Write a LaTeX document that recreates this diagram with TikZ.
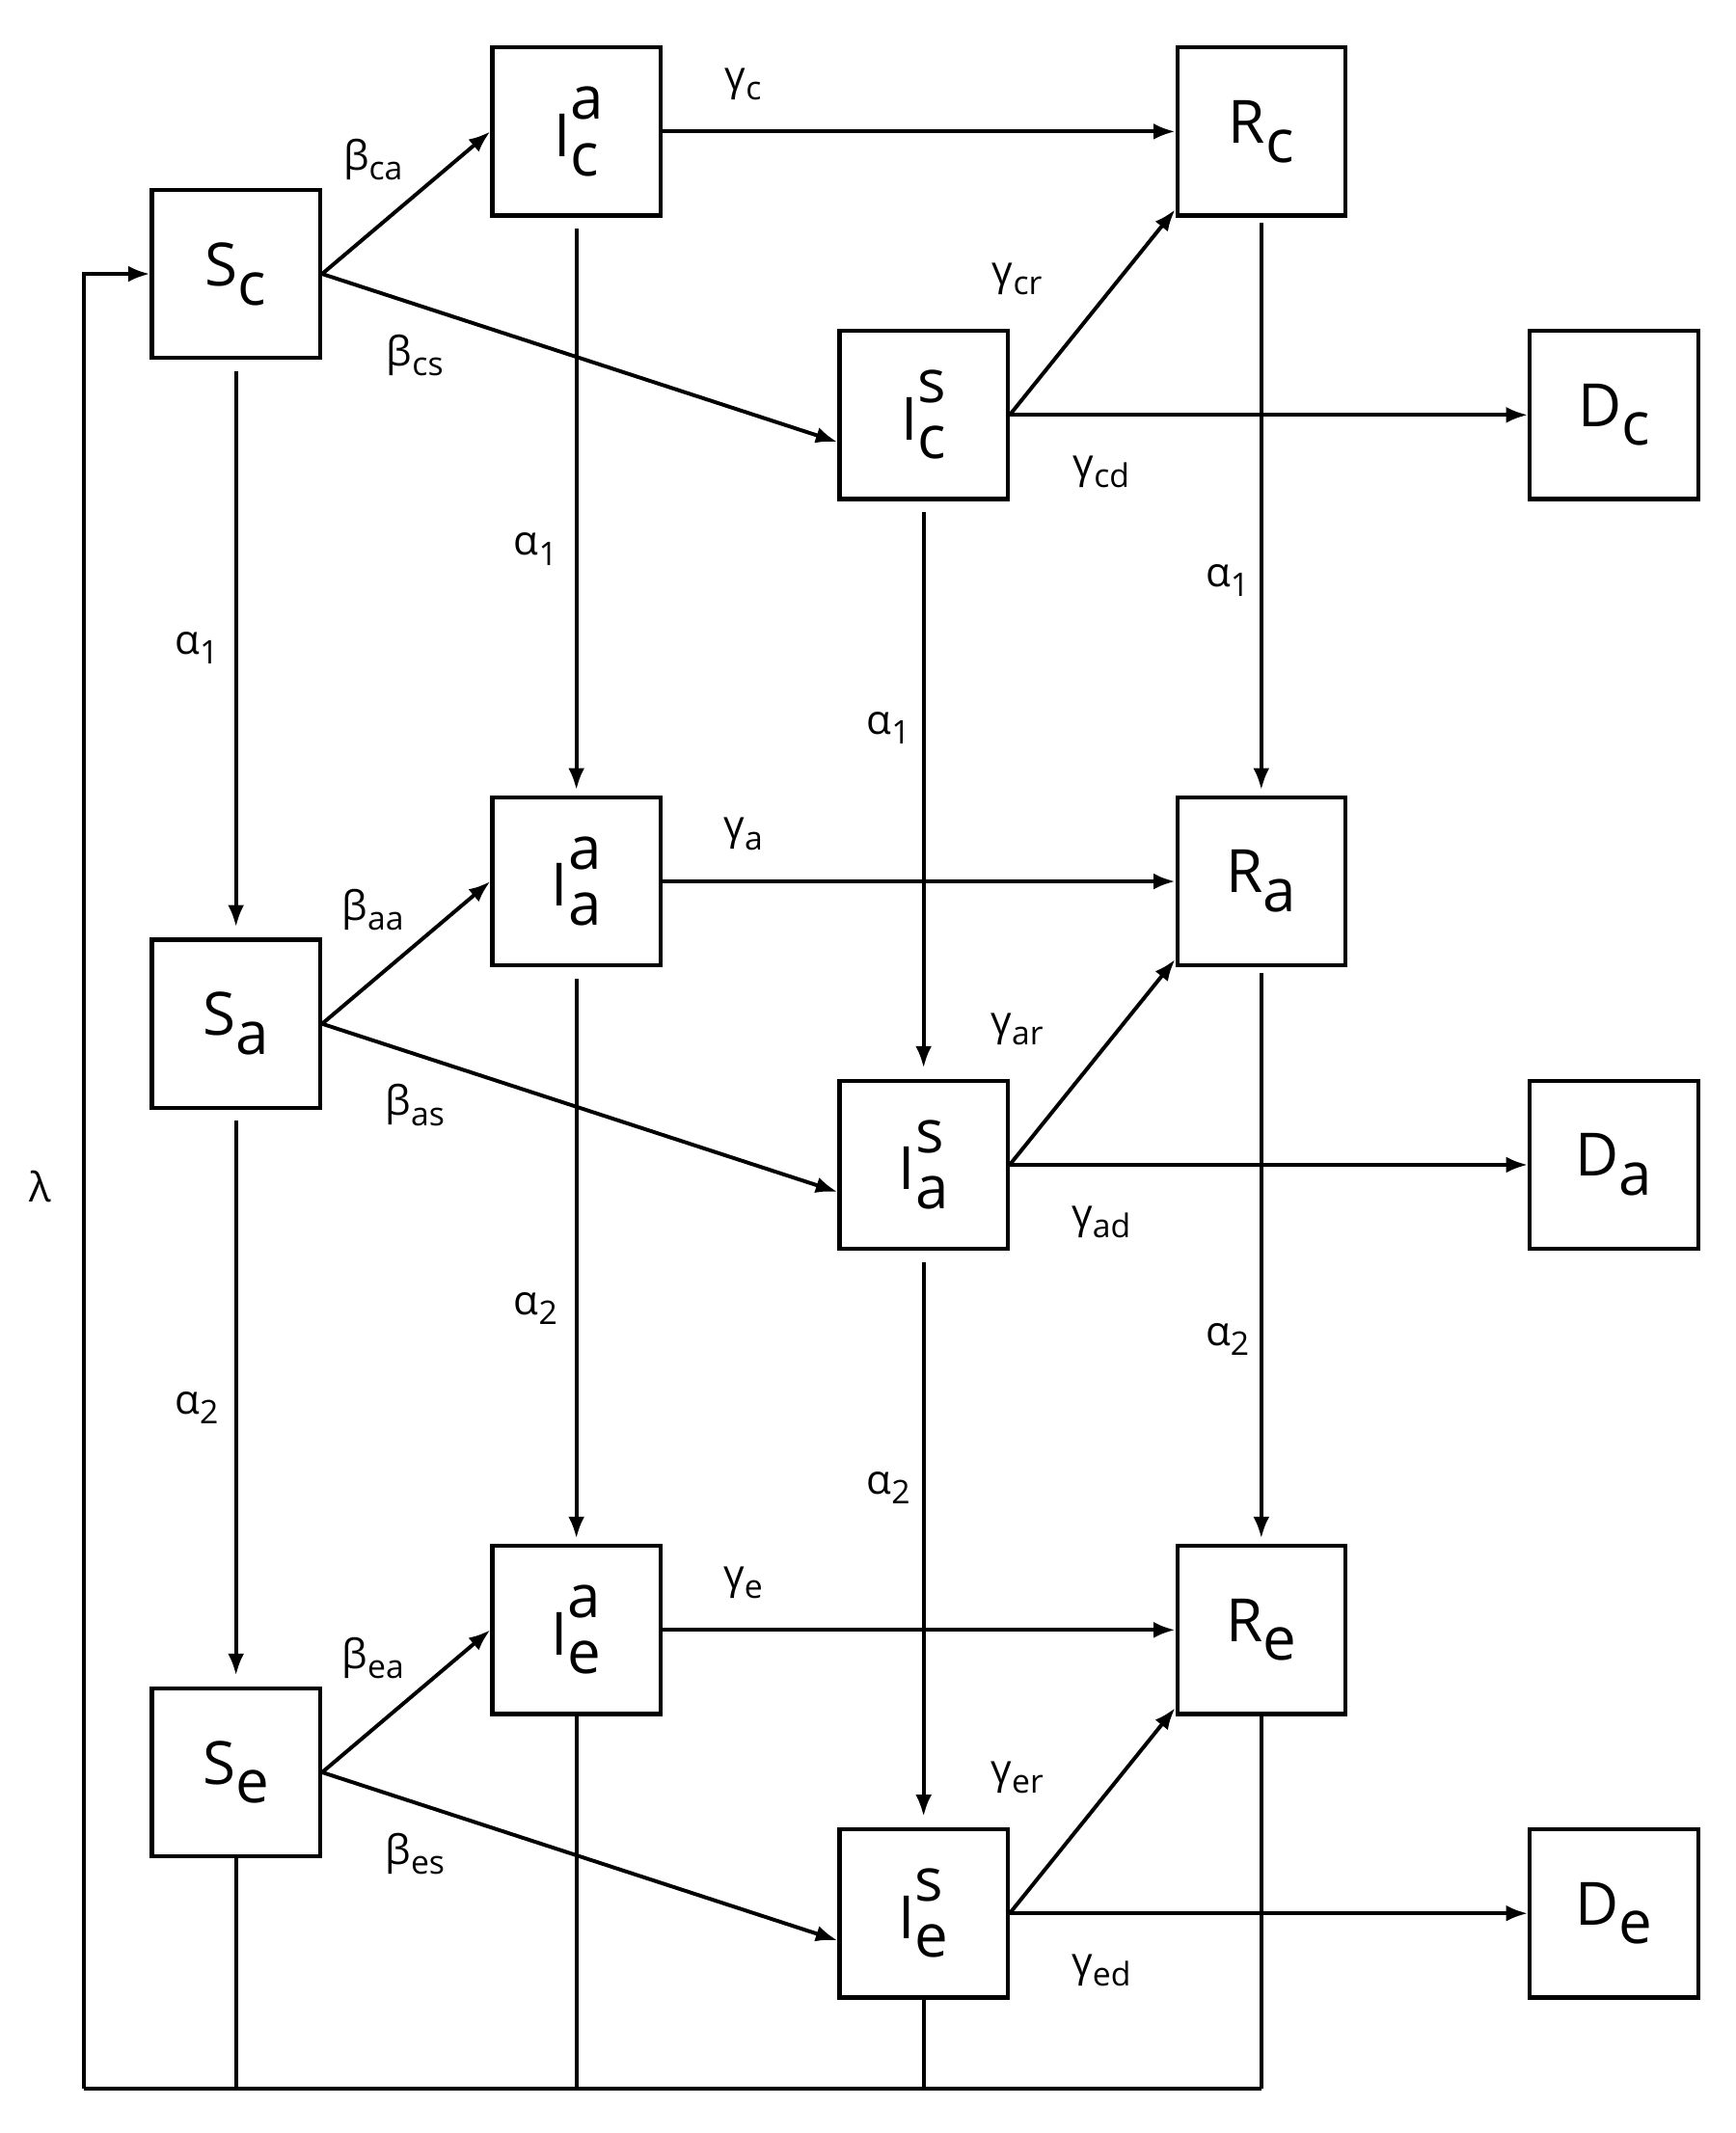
\documentclass[tikz,border=0pt]{standalone}
\usepackage{fontspec}
\setmainfont{Open Sans}
\usetikzlibrary{arrows.meta}
\newcommand\Lab[3]{#1\makebox[0pt][l]{\raisebox{0.62em}{#2}}\raisebox{-0.32em}{#3}}
\newcommand\Sb[1]{\raisebox{-0.45ex}{\fontsize{12}{14}\selectfont #1}}
\begin{document}
\begin{tikzpicture}[x=0.5pt,y=-0.5pt,
  box/.style={draw,line width=1.5pt,minimum size=62pt,inner sep=0pt,font=\fontsize{22}{24}\selectfont},
  ar/.style={line width=1.4pt,-{Latex[length=8pt,width=6pt]}},
  ln/.style={line width=1.4pt},
  lb/.style={font=\fontsize{15}{16}\selectfont}]
\useasboundingbox (0,0) rectangle (1280,1573);
\foreach \r/\dy in {c/0,a/553,e/1105}{
  \node[box] (S\r) at (174,202+\dy) {\Lab{S}{}{\r}};
  \node[box] (Ia\r) at (425,97+\dy) {\Lab{I}{a}{\r}};
  \node[box] (R\r) at (930,97+\dy) {\Lab{R}{}{\r}};
  \node[box] (Is\r) at (681,306+\dy) {\Lab{I}{s}{\r}};
  \node[box] (D\r) at (1190,306+\dy) {\Lab{D}{}{\r}};
  \draw[ar] (S\r.east) -- (Ia\r.west);
  \draw[ar] (S\r.east) -- ([yshift=-10pt]Is\r.west);
  \draw[ar] (Ia\r.east) -- (R\r.west);
  \draw[ar] (Is\r.east) -- ([yshift=3pt]R\r.south west);
  \draw[ar] (Is\r.east) -- (D\r.west);
  \node[lb] at (275,118+\dy) {β\Sb{\r a}};
  \node[lb] at (306,262+\dy) {β\Sb{\r s}};
  \node[lb] at (548,62+\dy) {γ\Sb{\r}};
  \node[lb] at (750,206+\dy) {γ\Sb{\r r}};
  \node[lb] at (812,348+\dy) {γ\Sb{\r d}};
}
\foreach \u/\v/\n in {c/a/1,a/e/2}{
  \draw[ar] ([yshift=-4pt]S\u.south) -- ([yshift=4pt]S\v.north);
  \draw[ar] ([yshift=-4pt]Ia\u.south) -- ([yshift=2pt]Ia\v.north);
  \draw[ar] ([yshift=-4pt]Is\u.south) -- ([yshift=4pt]Is\v.north);
  \draw[ar] ([yshift=-2pt]R\u.south) -- ([yshift=2pt]R\v.north);
}
\foreach \dy/\n in {0/1,560/2}{
  \node[lb] at (145,478+\dy) {α\Sb{\n}};
  \node[lb] at (395,405+\dy) {α\Sb{\n}};
  \node[lb] at (655,537+\dy) {α\Sb{\n}};
  \node[lb] at (905,428+\dy) {α\Sb{\n}};
}
\node[lb] at (30,875) {λ};
\coordinate (BL) at (62,1540);
\coordinate (BR) at (930,1540);
\draw[ln] (Se.south) -- (Se.south |- BL);
\draw[ln] (Iae.south) -- (Iae.south |- BL);
\draw[ln] (Ise.south) -- (Ise.south |- BL);
\draw[ln] (Re.south) -- (BR);
\draw[ln] (BR) -- (BL);
\draw[ar] (BL) |- (Sc.west);
\end{tikzpicture}
\end{document}
